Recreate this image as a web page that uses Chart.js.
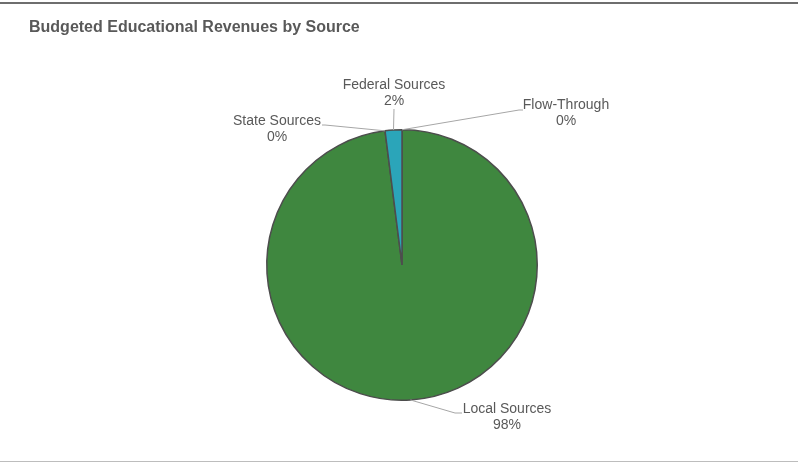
<!DOCTYPE html>
<html>
<head>
<meta charset="utf-8">
<script src="https://cdn.jsdelivr.net/npm/chart.js@4.4.1/dist/chart.umd.min.js"></script>
<style>
  html, body { margin: 0; padding: 0; background: #fff; }
  .frame { position: relative; width: 798px; height: 464px; overflow: hidden; }
  .rule-top { position: absolute; left: 0; right: 0; top: 2px; height: 2px; background: #6e6e6e; }
  .rule-bottom { position: absolute; left: 0; right: 0; top: 461px; height: 1px; background: #bdbdbd; }
  canvas { position: absolute; left: 0; top: 0; }
</style>
</head>
<body>
<div class="frame">
  <div class="rule-top"></div>
  <canvas id="revenue-chart" width="798" height="464"></canvas>
  <div class="rule-bottom"></div>
</div>
<script>
const chartTitle = 'Budgeted Educational Revenues by Source';
const sources = ['Local Sources', 'State Sources', 'Federal Sources', 'Flow-Through'];
const shares = [98, 0, 2, 0];
const sliceColors = ['#3f873f', '#3f873f', '#2ba5b9', '#2ba5b9'];

// where each callout sits: label centre, elbow of the leader line, end next to the text
const callouts = [
  { x: 507, y: 409, elbow: [455, 413], end: [462, 413] },
  { x: 277, y: 121, elbow: [325, 125], end: [322, 125] },
  { x: 394, y: 85, elbow: null, end: [394, 109] },
  { x: 566, y: 105, elbow: [519, 110], end: [523, 110] },
];

const FONT = '"Liberation Sans", Arial, sans-serif';
const TEXT = '#595959';

const calloutPlugin = {
  id: 'callouts',
  afterDatasetsDraw(chart) {
    const { ctx } = chart;
    const arcs = chart.getDatasetMeta(0).data;
    const total = shares.reduce((a, b) => a + b, 0);
    ctx.save();

    // title
    ctx.fillStyle = TEXT;
    ctx.font = 'bold 16px ' + FONT;
    ctx.textAlign = 'left';
    ctx.textBaseline = 'alphabetic';
    ctx.fillText(chartTitle, 29, 32);

    arcs.forEach((arc, i) => {
      const p = arc.getProps(['x', 'y', 'startAngle', 'endAngle', 'outerRadius'], true);
      const mid = (p.startAngle + p.endAngle) / 2;
      const ax = p.x + Math.cos(mid) * p.outerRadius;
      const ay = p.y + Math.sin(mid) * p.outerRadius;
      const c = callouts[i];

      ctx.strokeStyle = '#a6a6a6';
      ctx.lineWidth = 1;
      ctx.beginPath();
      ctx.moveTo(ax, ay);
      if (c.elbow) ctx.lineTo(c.elbow[0], c.elbow[1]);
      ctx.lineTo(c.end[0], c.end[1]);
      ctx.stroke();

      ctx.fillStyle = TEXT;
      ctx.font = '14px ' + FONT;
      ctx.textAlign = 'center';
      ctx.textBaseline = 'middle';
      ctx.fillText(sources[i], c.x, c.y);
      ctx.fillText(Math.round((shares[i] / total) * 100) + '%', c.x, c.y + 16);
    });
    ctx.restore();
  },
};

new Chart(document.getElementById('revenue-chart'), {
  type: 'pie',
  data: {
    labels: sources,
    datasets: [
      {
        data: shares,
        backgroundColor: sliceColors,
        borderColor: '#4d4d4d',
        borderWidth: 1.5,
      },
    ],
  },
  options: {
    responsive: false,
    animation: false,
    devicePixelRatio: 1,
    layout: { padding: { left: 266, right: 260, top: 129, bottom: 63 } },
    plugins: {
      legend: { display: false },
      tooltip: { enabled: false },
    },
  },
  plugins: [calloutPlugin],
});
</script>
</body>
</html>
